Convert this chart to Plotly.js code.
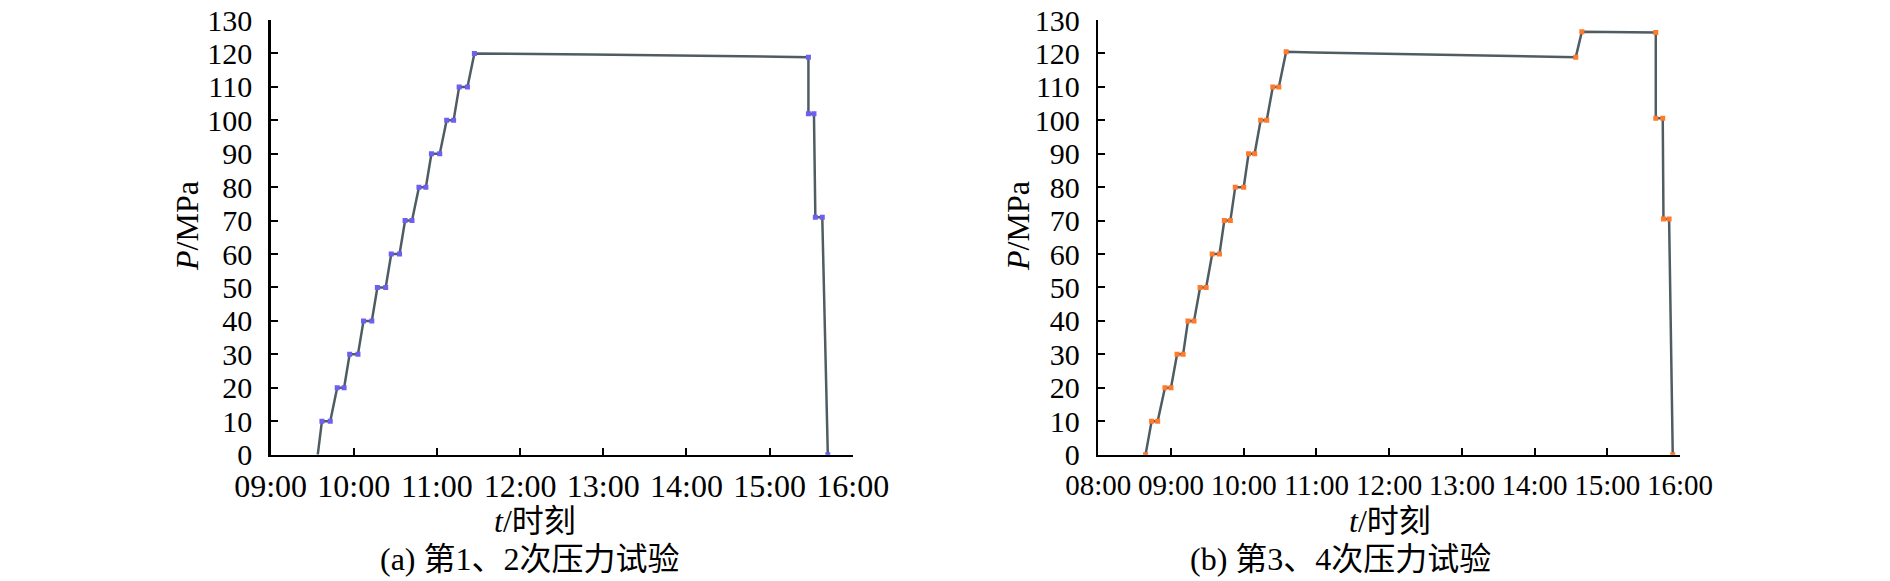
<!DOCTYPE html>
<html>
<head>
<meta charset="utf-8">
<script src="https://cdn.plot.ly/plotly-3.0.1.min.js"></script>
<style>
  html, body { margin: 0; padding: 0; background: #fff; }
  #chart { width: 1890px; height: 581px; }
</style>
</head>
<body>
<div id="chart"></div>
<script>
// test 1 & 2 (a)
var timesA = ['09:34', '09:37', '09:43', '09:48', '09:53', '09:57', '10:03', '10:07', '10:13',
    '10:17', '10:23', '10:27', '10:33', '10:37', '10:42', '10:47', '10:52', '10:56', '11:02',
    '11:07', '11:12', '11:16', '11:22', '11:27', '12:51', '14:19', '15:28', '15:28', '15:32',
    '15:33', '15:38', '15:42'];
var pressA = [0, 10, 10, 20, 20, 30, 30, 40, 40, 50, 50, 60, 60, 70, 70, 80, 80, 90, 90,
    100, 100, 110, 110, 120, 119.7, 119.3, 118.9, 102, 102, 71, 71, 0];
var markA = [0, 1, 1, 1, 1, 1, 1, 1, 1, 1, 1, 1, 1, 1, 1, 1, 1, 1, 1, 1, 1, 1, 1, 1, 0, 0,
    1, 1, 1, 1, 1, 1];

// test 3 & 4 (b)
var timesB = ['08:39', '08:44', '08:49', '08:55', '09:00', '09:05', '09:10', '09:14', '09:19',
    '09:24', '09:29', '09:34', '09:40', '09:44', '09:49', '09:53', '10:00', '10:04', '10:09',
    '10:14', '10:19', '10:24', '10:29', '10:35', '10:58', '12:10', '13:21', '14:34', '14:39',
    '15:40', '15:40', '15:45:45', '15:46:20', '15:51', '15:54'];
var pressB = [0, 10, 10, 20, 20, 30, 30, 40, 40, 50, 50, 60, 60, 70, 70, 80, 80, 90, 90,
    100, 100, 110, 110, 120.5, 120.3, 119.8, 119.5, 118.9, 126.5, 126.3, 100.6, 100.6,
    70.5, 70.5, 0];
var markB = [1, 1, 1, 1, 1, 1, 1, 1, 1, 1, 1, 1, 1, 1, 1, 1, 1, 1, 1, 1, 1, 1, 1, 1, 0, 0,
    0, 1, 1, 1, 1, 1, 1, 1, 1];

var yTicks = [0, 10, 20, 30, 40, 50, 60, 70, 80, 90, 100, 110, 120, 130];
var day = '2000-01-01 ';

function toDate(list) {
    return list.map(function (t) { return day + t; });
}

function pick(list, flags) {
    var out = [];
    for (var i = 0; i < list.length; i++) {
        if (flags[i]) out.push(list[i]);
    }
    return out;
}

var serif = 'Liberation Serif, Times New Roman, Noto Sans CJK SC, serif';
var lineColor = '#4f5d63';

var data = [
    {
        x: toDate(timesA), y: pressA, xaxis: 'x', yaxis: 'y',
        mode: 'lines', type: 'scatter',
        line: {color: lineColor, width: 2.5}
    },
    {
        x: toDate(pick(timesA, markA)), y: pick(pressA, markA), xaxis: 'x', yaxis: 'y',
        mode: 'markers', type: 'scatter',
        marker: {symbol: 'square', size: 5, color: '#6e5ff2'}
    },
    {
        x: toDate(timesB), y: pressB, xaxis: 'x2', yaxis: 'y2',
        mode: 'lines', type: 'scatter',
        line: {color: lineColor, width: 2.5}
    },
    {
        x: toDate(pick(timesB, markB)), y: pick(pressB, markB), xaxis: 'x2', yaxis: 'y2',
        mode: 'markers', type: 'scatter',
        marker: {symbol: 'square', size: 5, color: '#ff7a2a'}
    }
];

function xAxis(domain, start, anchor, fontSize, standoff) {
    return {
        type: 'date',
        anchor: anchor,
        domain: domain,
        range: [day + start, day + '16:00'],
        tick0: day + start,
        dtick: 3600000,
        tickformat: '%H:%M',
        tickangle: 0,
        ticks: 'inside', ticklen: 7, tickwidth: 2, tickcolor: '#000',
        showline: true, linecolor: '#000', linewidth: 2.5,
        showgrid: false, zeroline: false,
        ticklabelstandoff: standoff,
        tickfont: {family: serif, size: fontSize, color: '#000'}
    };
}

function yAxis(anchor) {
    return {
        anchor: anchor,
        domain: [0.2175, 0.9655],
        range: [0, 130],
        tickvals: yTicks,
        ticks: 'inside', ticklen: 7, tickwidth: 2, tickcolor: '#000',
        showline: true, linecolor: '#000', linewidth: 2.5,
        showgrid: false, zeroline: false,
        ticklabelstandoff: 10,
        tickfont: {family: serif, size: 30, color: '#000'}
    };
}

function note(text, x, y, angle) {
    return {
        text: text, xref: 'paper', yref: 'paper', x: x, y: y,
        xanchor: 'center', yanchor: 'middle', showarrow: false,
        textangle: angle || 0,
        font: {family: serif, size: 32, color: '#000'}
    };
}

var layout = {
    width: 1890,
    height: 581,
    margin: {l: 0, r: 0, t: 0, b: 0},
    paper_bgcolor: '#fff',
    plot_bgcolor: '#fff',
    showlegend: false,
    xaxis: xAxis([0.1432, 0.4512], '09:00', 'y', 32, 1),
    yaxis: yAxis('x'),
    xaxis2: xAxis([0.5811, 0.8889], '08:00', 'y2', 29, 3),
    yaxis2: yAxis('x2'),
    annotations: [
        note('<i>P</i>/MPa', 0.0989, 0.611, -90),
        note('<i>t</i>/时刻', 0.2831, 0.1033),
        note('(a) 第1、2次压力试验', 0.2804, 0.0379),
        note('<i>P</i>/MPa', 0.5386, 0.611, -90),
        note('<i>t</i>/时刻', 0.7354, 0.1033),
        note('(b) 第3、4次压力试验', 0.709, 0.0379)
    ]
};

Plotly.newPlot('chart', data, layout, {staticPlot: true});
</script>
</body>
</html>
